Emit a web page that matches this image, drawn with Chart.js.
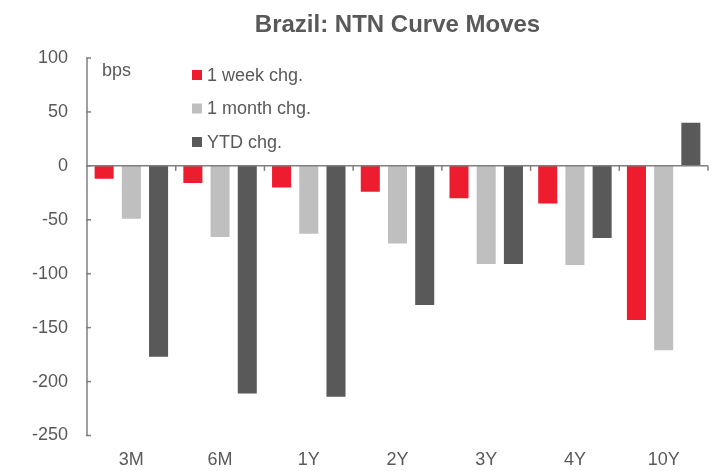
<!DOCTYPE html>
<html>
<head>
<meta charset="utf-8">
<script src="https://cdn.jsdelivr.net/npm/chart.js@4/dist/chart.umd.min.js"></script>
<style>
html,body{margin:0;padding:0;background:#fff;}
#wrap{width:717px;height:471px;position:relative;}
</style>
</head>
<body>
<div id="wrap"><canvas id="c" width="717" height="471"></canvas></div>
<script>
const categories = ['3M','6M','1Y','2Y','3Y','4Y','10Y'];
const weekChg = [-12,-16,-20,-24,-30,-35,-143];
const monthChg = [-49,-66,-63,-72,-91,-92,-171];
const ytdChg = [-177,-211,-214,-129,-91,-67,40];
const seriesLabels = ['1 week chg.','1 month chg.','YTD chg.'];
const yTicks = [100,50,0,-50,-100,-150,-200,-250];
const titleText = 'Brazil: NTN Curve Moves';
const unitText = 'bps';

const TXT = '#595959';
const AXIS = '#7f7f7f';
const FONT = '"Liberation Sans", Arial, sans-serif';
const colors = ['#ED1C2E','#BFBFBF','#595959'];

const decor = {
  id:'decor',
  afterDatasetsDraw(chart){
    const ctx = chart.ctx, x = chart.scales.x, y = chart.scales.y, a = chart.chartArea;
    ctx.save();
    ctx.strokeStyle = AXIS; ctx.lineWidth = 1.5;
    ctx.beginPath(); ctx.moveTo(a.left, y.getPixelForValue(yTicks[0])); ctx.lineTo(a.left, y.getPixelForValue(yTicks[yTicks.length-1])); ctx.stroke();
    yTicks.forEach(v=>{const py=y.getPixelForValue(v);ctx.beginPath();ctx.moveTo(a.left-1,py);ctx.lineTo(a.left+4,py);ctx.stroke();});
    const y0 = y.getPixelForValue(0);
    ctx.beginPath(); ctx.moveTo(a.left, y0); ctx.lineTo(a.right, y0); ctx.stroke();
    const w = (a.right-a.left)/categories.length;
    for(let i=1;i<=categories.length;i++){
      const px = a.left + i*w;
      ctx.beginPath(); ctx.moveTo(px,y0); ctx.lineTo(px,y0+5); ctx.stroke();
    }
    ctx.fillStyle = TXT;
    ctx.font = 'bold 24px ' + FONT;
    ctx.textAlign='center'; ctx.textBaseline='middle';
    ctx.fillText(titleText, (a.left+a.right)/2, 25);
    ctx.font = '18px ' + FONT;
    ctx.textAlign='left';
    ctx.fillText(unitText, 102, 71);
    chart.data.datasets.forEach((ds,i)=>{
      const cy = 75 + i*33.5;
      ctx.fillStyle = ds.backgroundColor;
      ctx.fillRect(192, cy-5, 10, 10);
      ctx.fillStyle = TXT;
      ctx.fillText(ds.label, 207, cy+1);
    });
    ctx.restore();
  }
};

new Chart(document.getElementById('c'), {
  type:'bar',
  data:{
    labels: categories,
    datasets:[
      {label:seriesLabels[0], data:weekChg, backgroundColor:colors[0]},
      {label:seriesLabels[1], data:monthChg, backgroundColor:colors[1]},
      {label:seriesLabels[2], data:ytdChg, backgroundColor:colors[2]}
    ]
  },
  options:{
    responsive:false, animation:false,
    layout:{padding:{top:58,right:9,left:0,bottom:0}},
    datasets:{bar:{categoryPercentage:0.92,barPercentage:0.70}},
    plugins:{legend:{display:false},title:{display:false},tooltip:{enabled:false}},
    scales:{
      x:{
        grid:{display:false,drawTicks:false}, border:{display:false},
        ticks:{color:TXT,font:{family:FONT,size:18},padding:14,maxRotation:0},
        afterFit(s){s.height=35.5;}
      },
      y:{
        min:-250,max:100,
        grid:{display:false,drawTicks:false}, border:{display:false},
        afterBuildTicks(s){s.ticks = yTicks.map(v=>({value:v}));},
        ticks:{color:TXT,font:{family:FONT,size:18},padding:19},
        afterFit(s){s.width=87;}
      }
    }
  },
  plugins:[decor]
});
</script>
</body>
</html>
